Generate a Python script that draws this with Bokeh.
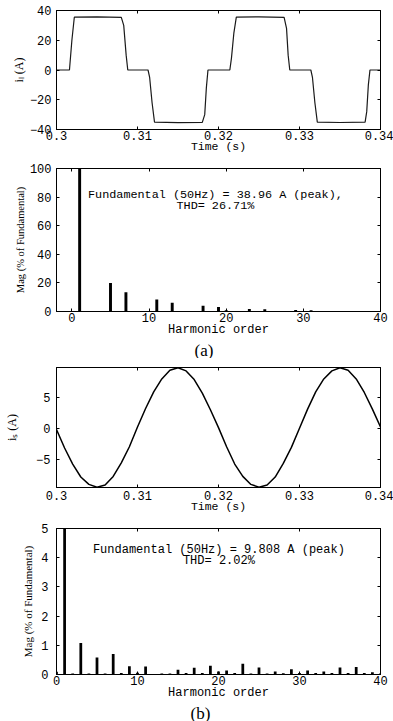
from bokeh.plotting import figure
from bokeh.layouts import column
from bokeh.models import (Range1d, FixedTicker, LinearAxis, Title,
                          NumeralTickFormatter, CustomJSTickFormatter)
from bokeh.core.properties import value
from bokeh.embed import file_html
from bokeh.resources import INLINE

# ---------------- data ----------------
# (a) load current i_L (A) vs time (s): corner points
t_L = [0.3000, 0.3016, 0.3019, 0.3022, 0.3050, 0.3080, 0.3083, 0.3086, 0.3088,
       0.3113, 0.3115, 0.3118, 0.3121, 0.3150, 0.3180, 0.3183, 0.3185, 0.3187,
       0.3214, 0.3216, 0.3219, 0.3222, 0.3250, 0.3281, 0.3284, 0.3286, 0.3288,
       0.3314, 0.3316, 0.3319, 0.3322, 0.3350, 0.3381, 0.3383, 0.3385, 0.3387,
       0.3400]
i_L = [0, 0, 20, 35.5, 35.7, 35.4, 30, 10, 0,
       0, -5, -22, -35, -35.4, -35.2, -30, -12, 0,
       0, 8, 25, 35.5, 35.7, 35.4, 28, 10, 0,
       0, -5, -22, -35, -35.3, -35.1, -28, -10, 0,
       0]

# (b) source current i_s (A) vs time (s), one sample per ms
t_s = [0.300, 0.301, 0.302, 0.303, 0.304, 0.305, 0.306, 0.307, 0.308, 0.309,
       0.310, 0.311, 0.312, 0.313, 0.314, 0.315, 0.316, 0.317, 0.318, 0.319,
       0.320, 0.321, 0.322, 0.323, 0.324, 0.325, 0.326, 0.327, 0.328, 0.329,
       0.330, 0.331, 0.332, 0.333, 0.334, 0.335, 0.336, 0.337, 0.338, 0.339,
       0.340]
i_s = [-0.2, -3.2, -5.8, -7.9, -9.1, -9.55, -9.2, -7.8, -5.6, -3.0,
       0.2, 3.2, 5.9, 8.0, 9.4, 9.8, 9.3, 7.9, 5.7, 3.0,
       0.1, -3.0, -5.8, -7.8, -9.1, -9.55, -9.2, -7.9, -5.7, -3.1,
       0.0, 3.1, 5.9, 8.0, 9.3, 9.8, 9.4, 8.0, 5.8, 3.1,
       0.2]

# harmonic spectra (% of fundamental), orders 0..40
harm = list(range(41))
mag_a = [0.3, 100, 0.2, 0.3, 0.2, 19.9, 0.2, 13.5, 0.2, 0.3,
         0.2, 8.4, 0.2, 6.2, 0.3, 0.3, 0.3, 4.1, 0.3, 3.2,
         0.8, 0.3, 0.3, 1.8, 0.3, 1.6, 0.3, 0.3, 0.3, 1.1,
         0.3, 0.9, 0.3, 0.3, 0.3, 0.4, 0.2, 0.3, 0.2, 0.2,
         0.2]
mag_b = [0.09, 100, 0.03, 1.08, 0.03, 0.58, 0.03, 0.70, 0.05, 0.28,
         0.06, 0.27, 0.02, 0.03, 0.03, 0.16, 0.05, 0.23, 0.05, 0.30,
         0.10, 0.14, 0.05, 0.37, 0.03, 0.24, 0.03, 0.10, 0.04, 0.18,
         0.05, 0.14, 0.05, 0.10, 0.05, 0.24, 0.05, 0.26, 0.05, 0.08,
         0.03]

time_ticks = [0.30, 0.31, 0.32, 0.33, 0.34]
harm_ticks = [0, 10, 20, 30, 40]
iL_ticks = [-40, -20, 0, 20, 40]
is_ticks = [-5, 0, 5]
mag_a_ticks = [0, 20, 40, 60, 80, 100]
mag_b_ticks = [0, 1, 2, 3, 4, 5]

text_a = ["Fundamental (50Hz) = 38.96 A (peak),", "THD= 26.71%"]
text_b = ["Fundamental (50Hz) = 9.808 A (peak)", "THD= 2.02%"]

# ---------------- style ----------------
W = 393
MONO = "Liberation Mono"
SERIF = "Liberation Serif"
blank = CustomJSTickFormatter(code="return ''")


def make_fig(h, top, bottom, left, right, xr, yr):
    p = figure(width=W, height=h, output_backend="svg", toolbar_location=None,
               x_range=Range1d(*xr), y_range=Range1d(*yr),
               min_border_top=top, min_border_bottom=bottom,
               min_border_left=left, min_border_right=right)
    p.background_fill_color = "white"
    p.border_fill_color = "white"
    p.outline_line_color = "black"
    p.outline_line_width = 1
    p.xgrid.visible = False
    p.ygrid.visible = False
    return p


def style_axis(ax, ticks, standoff):
    ax.ticker = FixedTicker(ticks=ticks)
    ax.major_tick_in = 3
    ax.major_tick_out = 0
    ax.minor_tick_line_color = None
    ax.axis_line_color = "black"
    ax.major_tick_line_color = "black"
    ax.major_label_text_font = MONO
    ax.major_label_text_font_size = "12px"
    ax.major_label_text_color = "black"
    ax.major_label_standoff = standoff


def decorate(p, xt, yt, xlabel, ylabel, ylabel_size, xstand, xlab_stand,
             ystand, ylab_stand, xlab_size, xfmt=None):
    xa = p.xaxis[0]
    ya = p.yaxis[0]
    style_axis(xa, xt, xstand)
    style_axis(ya, yt, ystand)
    if xfmt is not None:
        xa.formatter = xfmt
    xa.axis_label = xlabel
    xa.axis_label_text_font = MONO
    xa.axis_label_text_font_size = xlab_size
    xa.axis_label_text_font_style = "normal"
    xa.axis_label_text_color = "black"
    xa.axis_label_standoff = xlab_stand
    ya.axis_label = ylabel
    ya.axis_label_text_font = SERIF
    ya.axis_label_text_font_size = ylabel_size
    ya.axis_label_text_font_style = "normal"
    ya.axis_label_text_color = "black"
    ya.axis_label_standoff = ylab_stand
    top = LinearAxis(formatter=blank)
    style_axis(top, xt, 0)
    p.add_layout(top, "above")
    right = LinearAxis(formatter=blank)
    style_axis(right, yt, 0)
    p.add_layout(right, "right")


def sub_caption(p, text, offset, standoff):
    p.add_layout(Title(text=text, align="left", offset=offset, standoff=standoff,
                       text_font=SERIF, text_font_size="17px",
                       text_font_style="normal", text_color="black"), "below")


time_fmt = NumeralTickFormatter(format="0.[00]")

# ---- panel 1: i_L ----
p1 = make_fig(160, 10, 31, 53, 13, (0.3, 0.34), (-40, 40))
p1.line(t_L, i_L, line_color="#1a1a1a", line_width=1.2)
decorate(p1, time_ticks, iL_ticks, "Time (s)", "i\u2097 (A)", "12px",
         1, -3, 5, 1, "11.5px", xfmt=time_fmt)

# ---- panel 2: spectrum (a) ----
p2 = make_fig(198, 8, 44, 50, 13, (-2, 40), (0, 100))
p2.vbar(x=harm, top=mag_a, width=0.38, bottom=0, fill_color="black",
        line_color=None)
p2.text(x=[18.6, 18.6], y=[81.5, 74], text=text_a, text_font=value(MONO),
        text_font_size="11.8px", text_align="center", text_baseline="middle",
        text_color="black")
decorate(p2, harm_ticks, mag_a_ticks, "Harmonic order", "Mag (% of Fundamental)",
         "10.5px", 1, -2, 5, 1, "12px")
sub_caption(p2, "(a)", 138, -2)

# ---- panel 3: i_s ----
p3 = make_fig(161, 9, 32, 56, 12, (0.3, 0.34), (-9.6, 9.85))
p3.line(t_s, i_s, line_color="black", line_width=1.5)
decorate(p3, time_ticks, is_ticks, "Time (s)", "i\u209b (A)", "12px",
         3, -3, 6, 14, "11.5px", xfmt=time_fmt)

# ---- panel 4: spectrum (b) ----
p4 = make_fig(202, 9, 47, 53, 12, (0, 40), (0, 5))
p4.vbar(x=harm, top=mag_b, width=0.34, bottom=0, fill_color="black",
        line_color=None)
p4.text(x=[20.05, 20.05], y=[4.28, 3.9], text=text_b, text_font=value(MONO),
        text_font_size="12px", text_align="center", text_baseline="middle",
        text_color="black")
decorate(p4, harm_ticks, mag_b_ticks, "Harmonic order", "Mag (% of Fundamental)",
         "11px", 1, -2, 8, 4, "12px")
sub_caption(p4, "(b)", 134, -2)

layout = column(p1, p2, p3, p4)
open("out.html", "w").write(file_html(layout, INLINE))
